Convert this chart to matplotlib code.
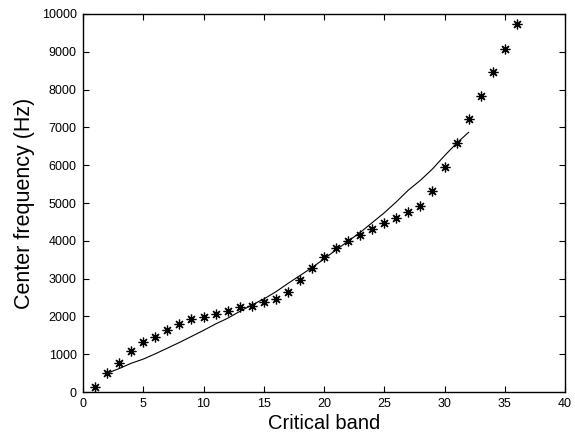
import numpy as np
import matplotlib.pyplot as plt

plt.rcParams['font.family'] = ['Liberation Sans', 'DejaVu Sans']

# critical band centre frequencies (stars)
bands = np.arange(1, 37)
center_hz = [140, 495, 765, 1095, 1315, 1465, 1640, 1790, 1920, 1995,
             2055, 2150, 2240, 2280, 2375, 2470, 2640, 2965, 3290, 3580,
             3815, 3995, 4155, 4305, 4460, 4610, 4755, 4930, 5325, 5960,
             6580, 7210, 7840, 8475, 9075, 9725]

# fitted curve (solid line)
fit_bands = np.arange(2, 33)
fit_hz = [495, 620, 760, 870, 1010, 1160, 1310, 1470, 1630, 1800,
          1950, 2130, 2300, 2460, 2650, 2870, 3080, 3290, 3520, 3760,
          3990, 4220, 4480, 4740, 5030, 5340, 5600, 5900, 6250, 6580, 6870]

fig = plt.figure(figsize=(5.75, 4.48), dpi=100)
ax = fig.add_axes([83/575, 56/448, 482/575, 378/448])

ax.plot(fit_bands, fit_hz, color='k', linewidth=0.8)
ax.plot(bands, center_hz, linestyle='none', marker=(8, 2, 0), markersize=7,
        markeredgecolor='k', markeredgewidth=0.9)

ax.set_xlim(0, 40)
ax.set_ylim(0, 10000)
ax.set_xticks(np.arange(0, 41, 5))
ax.set_yticks(np.arange(0, 10001, 1000))
ax.tick_params(direction='in', top=True, right=True, length=4, width=0.8,
               labelsize=9, pad=4.5)
for s in ax.spines.values():
    s.set_linewidth(1.0)
ax.set_xlabel('Critical band', fontsize=14.5, labelpad=3)
ax.set_ylabel('Center frequency (Hz)', fontsize=15.5, labelpad=5)

fig.savefig('out.png', dpi=100)
